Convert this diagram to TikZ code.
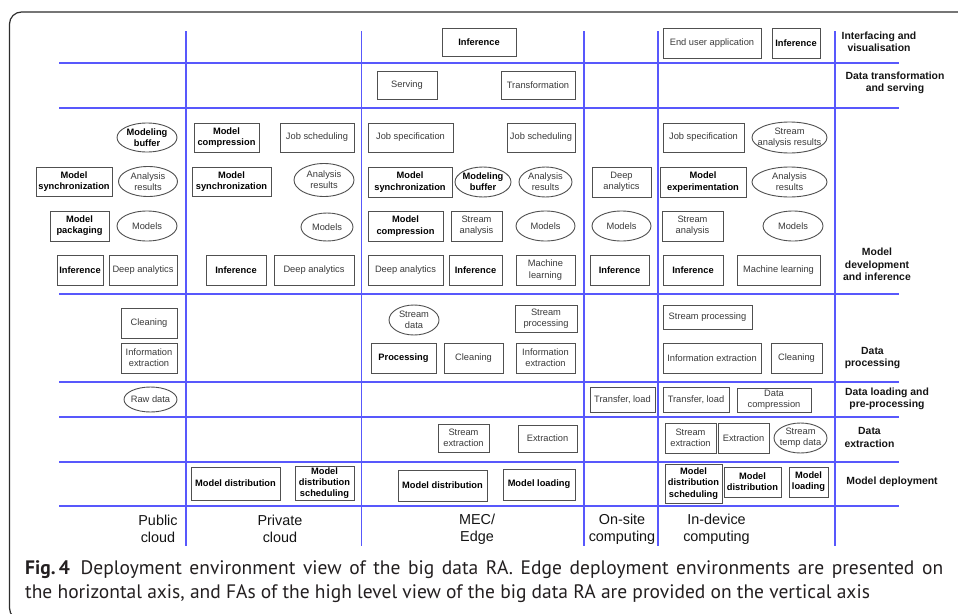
\documentclass[tikz,border=0pt]{standalone}
\usepackage{fontspec}
\setmainfont{Liberation Sans}
\newfontfamily\capfont{PT Sans}
\usetikzlibrary{shapes.geometric}
\definecolor{gridblue}{RGB}{88,88,252}
\definecolor{boxline}{RGB}{80,80,80}
\definecolor{boxtext}{RGB}{58,58,58}
\definecolor{framec}{RGB}{45,45,45}
\definecolor{captext}{RGB}{35,31,32}
\begin{document}
\begin{tikzpicture}[x=1pt,y=-1pt,
  sz/.style 2 args={minimum width=#1pt, minimum height=#2pt},
  box/.style={draw=boxline, line width=0.9pt, fill=white, inner sep=0pt, align=center,
    text=boxtext, font=\fontsize{9.3}{11.2}\selectfont},
  bbox/.style={box, text=black, font=\fontsize{9.3}{11.2}\selectfont\bfseries},
  oval/.style={ellipse, draw=boxline, line width=0.9pt, fill=white, inner sep=0pt},
  otext/.style={inner sep=0pt, align=center, text=boxtext, font=\fontsize{9.3}{11.2}\selectfont},
  otextb/.style={otext, text=black, font=\fontsize{9.3}{11.2}\selectfont\bfseries},
  rowlab/.style={inner sep=0pt, align=center, text=black!92, font=\fontsize{10.4}{12.5}\selectfont\bfseries},
  collab/.style={inner sep=0pt, align=center, text=black!92, font=\fontsize{14.4}{17}\selectfont},
  gridline/.style={draw=gridblue, line width=1.1pt},
  frameline/.style={draw=framec, line width=1.2pt, rounded corners=12pt},
  capt/.style={inner sep=0pt, anchor=base west, text=captext, font=\capfont\fontsize{19.5}{24}\selectfont}
]
\useasboundingbox (0,0) rectangle (958,613);
\clip (0,0) rectangle (958,613);

% outer frame
\draw[frameline] (980,12) -- (9.5,12) -- (9.5,620) -- (980,620);

% grid of environments (columns) and functional areas (rows)
\foreach \yy in {63,108,294,382,417,462,506}
  \draw[gridline] (59,\yy) -- (899,\yy);
\foreach \xx in {186,361.5,584,658,835}
  \draw[gridline] (\xx,31) -- (\xx,546);

% ---- Interfacing and visualisation
\node[bbox, sz={74}{28}] (mecInfTop) at (479,42) {Inference};
\node[box, sz={98}{30}] (devApp) at (712,43) {End user application};
\node[bbox, sz={48}{30}] (devInfTop) at (796,43) {Inference};

% ---- Data transformation and serving
\node[box, sz={60}{28}] (mecServ) at (407,85) {Serving};
\node[box, sz={74}{28}] (mecTrans) at (538,85) {Transformation};

% ---- Model development and inference: public cloud
\node[oval, sz={60}{29}, label={[otextb]center:{Modeling\\buffer}}] (pubBuf) at (147,137.5) {};
\node[bbox, sz={76}{29}] (pubSync) at (74,181.5) {Model\\synchronization};
\node[oval, sz={59}{30}, label={[otext]center:{Analysis\\results}}] (pubRes) at (148,181.5) {};
\node[bbox, sz={59}{30}] (pubPack) at (79.5,226) {Model\\packaging};
\node[oval, sz={60}{30}, label={[otext]center:{Models}}] (pubModels) at (147,226) {};
\node[bbox, sz={46}{30}] (pubInf) at (80,270) {Inference};
\node[box, sz={68}{30}] (pubDeep) at (143,270) {Deep analytics};

% private cloud
\node[bbox, sz={65}{29}] (priComp) at (226.5,137.5) {Model\\compression};
\node[box, sz={74}{29}] (priJob) at (317,137.5) {Job scheduling};
\node[bbox, sz={79}{29}] (priSync) at (231.5,181.5) {Model\\synchronization};
\node[oval, sz={60}{33}, label={[otext]center:{Analysis\\results}}] (priRes) at (324,180) {};
\node[oval, sz={52}{28}, label={[otext]center:{Models}}] (priModels) at (327,227) {};
\node[bbox, sz={60}{30}] (priInf) at (236,270) {Inference};
\node[box, sz={80}{30}] (priDeep) at (314,270) {Deep analytics};

% MEC / edge
\node[box, sz={85}{29}] (mecJobSpec) at (410.5,137.5) {Job specification};
\node[box, sz={68}{29}] (mecJobSch) at (541,137.5) {Job scheduling};
\node[bbox, sz={84}{30}] (mecSync) at (410,182) {Model\\synchronization};
\node[oval, sz={56}{30}, label={[otextb]center:{Modeling\\buffer}}] (mecBuf) at (483,182) {};
\node[oval, sz={53}{30}, label={[otext]center:{Analysis\\results}}] (mecRes) at (545.5,182) {};
\node[bbox, sz={75}{30}] (mecComp) at (405.5,226) {Model\\compression};
\node[box, sz={51}{30}] (mecStream) at (476.5,226) {Stream\\analysis};
\node[oval, sz={59}{30}, label={[otext]center:{Models}}] (mecModels) at (545.5,226) {};
\node[box, sz={75}{30}] (mecDeep) at (405.5,270) {Deep analytics};
\node[bbox, sz={53}{30}] (mecInf) at (475.5,270) {Inference};
\node[box, sz={59}{30}] (mecML) at (545.5,270) {Machine\\learning};

% on-site computing
\node[box, sz={59}{30}] (onDeep) at (621.5,182) {Deep\\analytics};
\node[oval, sz={59}{30}, label={[otext]center:{Models}}] (onModels) at (621.5,226) {};
\node[bbox, sz={59}{30}] (onInf) at (619.5,270) {Inference};

% in-device computing
\node[box, sz={81}{29}] (devJobSpec) at (703.5,137.5) {Job specification};
\node[oval, sz={75}{31}, label={[otext]center:{Stream\\analysis results}}] (devStreamRes) at (789.5,137.5) {};
\node[bbox, sz={86}{30}] (devExp) at (703,182) {Model\\experimentation};
\node[oval, sz={75}{30}, label={[otext]center:{Analysis\\results}}] (devRes) at (789.5,182) {};
\node[box, sz={61}{30}] (devStream) at (692.5,226) {Stream\\analysis};
\node[oval, sz={60}{30}, label={[otext]center:{Models}}] (devModels) at (793,226) {};
\node[bbox, sz={60}{30}] (devInf) at (693,270) {Inference};
\node[box, sz={83}{30}] (devML) at (778.5,270) {Machine learning};

% ---- Data processing
\node[box, sz={56}{30}] (pubClean) at (149,323) {Cleaning};
\node[box, sz={56}{30}] (pubInfo) at (149,358) {Information\\extraction};
\node[oval, sz={50}{30}, label={[otext]center:{Stream\\data}}] (mecStreamData) at (414,320) {};
\node[box, sz={62}{27}] (mecStreamProc) at (546,318.5) {Stream\\processing};
\node[bbox, sz={65}{30}] (mecProc) at (403.5,358) {Processing};
\node[box, sz={59}{30}] (mecClean) at (473.5,358) {Cleaning};
\node[box, sz={59}{30}] (mecInfo) at (545.5,358) {Information\\extraction};
\node[box, sz={89}{24}] (devStreamProc) at (707.5,317) {Stream processing};
\node[box, sz={98}{30}] (devInfo) at (712,358) {Information extraction};
\node[box, sz={51}{30}] (devClean) at (796.5,358) {Cleaning};

% ---- Data loading and pre-processing
\node[oval, sz={53}{25}, label={[otext]center:{Raw data}}] (pubRaw) at (150.5,399.5) {};
\node[box, sz={65}{25}] (onTransfer) at (622.5,399.5) {Transfer, load};
\node[box, sz={66}{25}] (devTransfer) at (696,399.5) {Transfer, load};
\node[box, sz={74}{24}] (devCompress) at (774,400) {Data\\compression};

% ---- Data extraction
\node[box, sz={51}{28}] (mecStreamExt) at (463.5,438) {Stream\\extraction};
\node[box, sz={59}{27}] (mecExt) at (547.5,438.5) {Extraction};
\node[box, sz={51}{30}] (devStreamExt) at (690.5,438) {Stream\\extraction};
\node[box, sz={51}{30}] (devExt) at (743.5,438) {Extraction};
\node[oval, sz={53}{30}, label={[otext]center:{Stream\\temp data}}] (devTemp) at (800.5,438) {};

% ---- Model deployment
\node[bbox, sz={89}{33}] (priDist) at (235.5,483.5) {Model distribution};
\node[bbox, sz={59}{34}] (priDistSch) at (324.5,483) {Model\\distribution\\scheduling};
\node[bbox, sz={89}{31}] (mecDist) at (442.5,485.5) {Model distribution};
\node[bbox, sz={72}{31}] (mecLoad) at (539,484.5) {Model loading};
\node[bbox, sz={57}{39}] (devDistSch) at (693.5,483.5) {Model\\distribution\\scheduling};
\node[bbox, sz={57}{30}] (devDist) at (752.5,482) {Model\\distribution};
\node[bbox, sz={39}{30}] (devLoad) at (808.5,482) {Model\\loading};

% ---- functional area labels
\node[rowlab] (rIface) at (879,42) {Interfacing and\\visualisation};
\node[rowlab] (rTrans) at (895,83) {Data transformation\\and serving};
\node[rowlab] (rModel) at (877,264.5) {Model\\development\\and inference};
\node[rowlab] (rProc) at (872.5,358) {Data\\processing};
\node[rowlab] (rLoad) at (887,399) {Data loading and\\pre-processing};
\node[rowlab] (rExtr) at (869.5,437.5) {Data\\extraction};
\node[rowlab] (rDepl) at (892,481.7) {Model deployment};

% ---- deployment environment labels
\node[collab] (cPub) at (158,529) {Public\\cloud};
\node[collab] (cPri) at (280,529) {Private\\cloud};
\node[collab] (cMec) at (477,529) {MEC/\\Edge};
\node[collab] (cOn) at (622,529) {On-site\\computing};
\node[collab] (cDev) at (716.5,529) {In-device\\computing};

% ---- caption (first line set full width, as in a justified paragraph)
\node[capt] (capA) at (25,574) {\makebox[918pt][s]{\textbf{Fig.\,4}\hspace{0.55em}Deployment environment view of the big data RA. Edge deployment environments are presented on}};
\node[capt] (capB) at (25,598) {the horizontal axis, and FAs of the high level view of the big data RA are provided on the vertical axis};
\end{tikzpicture}
\end{document}
